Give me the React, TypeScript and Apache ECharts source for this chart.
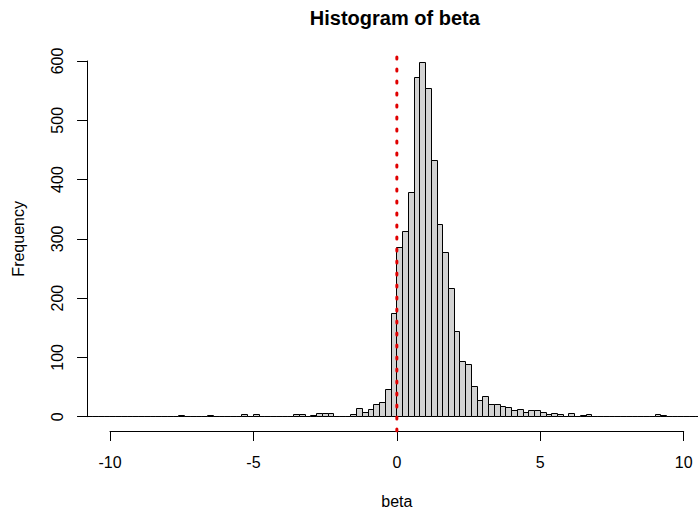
import React, { useEffect, useRef } from "react";
import * as echarts from "echarts";

// Histogram bins: left edge of first bin and bin width
const binStart = -11;
const binWidth = 0.2;
// Counts for bins [-11.0,-10.8), ..., [10.8,11.0)
const counts = [
  0, 0, 0, 0, 0, 0, 0, 0, 0, 0, 0, 0, 0, 0, 0, 0, 0,
  2, 0, 0, 0, 0, 2, 0, 0, 0, 0, 0, 4, 0, 4, 0, 0, 0,
  1, 1, 1, 4, 4, 0, 3, 5, 6, 5, 1, 1, 0, 4, 14, 8, 13, 20, 24, 46, 175,
  285, 313, 379, 572, 598, 553, 433, 325, 277, 216, 144, 93, 89, 51, 28, 34,
  21, 21, 18, 15, 10, 13, 8, 11, 10, 7, 4, 6, 4, 0, 6, 0, 2, 4, 0, 0,
  1, 1, 1, 0, 0, 0, 0, 0, 0, 4, 2,
  0, 0, 0, 0, 0, 0, 0, 0,
];
const xTicks = { min: -10, max: 10, step: 5 };
const yTicks = { min: 0, max: 600, step: 100 };
const refLineX = 0;
const titleText = "Histogram of beta";
const xName = "beta";
const yName = "Frequency";

const FONT = "'Liberation Sans', Arial, sans-serif";

export default function App() {
  const ref = useRef<HTMLDivElement>(null);
  useEffect(() => {
    if (!ref.current) return;
    const chart = echarts.init(ref.current, null, { renderer: "svg" });
    const bins = counts.map((c, i) => [
      +(binStart + i * binWidth).toFixed(2),
      +(binStart + (i + 1) * binWidth).toFixed(2),
      c,
    ]);
    const snap = (v: number) => Math.round(v - 0.5) + 0.5;
    const yMaxData = Math.max(...counts);
    const ext = yMaxData * 0.04;
    const axL = 110;
    const axW = 573.7;
    const pxPerUnit = axW / (xTicks.max - xTicks.min);
    const xLo = xTicks.min - 0.04 * (xTicks.max - xTicks.min);
    const gridLeft = axL + (xLo - xTicks.min) * pxPerUnit;
    const gridW = 698 - gridLeft;
    const xHi = xLo + gridW / pxPerUnit;
    const option: any = {
      animation: false,
      backgroundColor: "#ffffff",
      textStyle: { fontFamily: FONT },
      graphic: [
        {
          type: "text",
          x: axL + axW / 2 - 2,
          y: 8,
          style: {
            text: titleText,
            textAlign: "center",
            textVerticalAlign: "top",
            fontFamily: FONT,
            fontSize: 20,
            fontWeight: "bold",
            fill: "#000",
          },
        },
      ],
      grid: [
        { left: gridLeft, top: 48, width: gridW, height: 383, outerBoundsMode: "none", containLabel: false },
        { left: axL, top: 48, width: axW, height: 383, outerBoundsMode: "none", containLabel: false },
        { left: gridLeft, top: 61, width: gridW, height: 355.7, outerBoundsMode: "none", containLabel: false },
      ],
      xAxis: [
        { gridIndex: 0, type: "value", min: xLo, max: xHi, show: false },
        {
          gridIndex: 1,
          type: "value",
          min: xTicks.min,
          max: xTicks.max,
          interval: xTicks.step,
          position: "bottom",
          name: xName,
          nameLocation: "middle",
          nameGap: 62,
          nameTextStyle: { fontFamily: FONT, fontSize: 16, color: "#000" },
          axisLine: { show: true, onZero: false, lineStyle: { color: "#000", width: 1 } },
          axisTick: { show: true, inside: false, length: 10, lineStyle: { color: "#000" } },
          axisLabel: { fontFamily: FONT, fontSize: 16, color: "#000", margin: 23 },
          splitLine: { show: false },
        },
        { gridIndex: 2, type: "value", min: 0, max: 1, show: false },
      ],
      yAxis: [
        { gridIndex: 0, type: "value", min: -ext, max: yMaxData + ext, show: false },
        { gridIndex: 1, type: "value", min: 0, max: 1, show: false },
        {
          gridIndex: 2,
          type: "value",
          min: yTicks.min,
          max: yTicks.max,
          interval: yTicks.step,
          position: "left",
          name: yName,
          nameLocation: "middle",
          nameGap: 61,
          nameTextStyle: { fontFamily: FONT, fontSize: 16, color: "#000" },
          axisLine: { show: true, onZero: false, lineStyle: { color: "#000", width: 1 } },
          axisTick: { show: true, inside: false, length: 10, lineStyle: { color: "#000" } },
          axisLabel: { fontFamily: FONT, fontSize: 16, color: "#000", margin: 22, rotate: 90 },
          splitLine: { show: false },
        },
      ],
      series: [
        {
          type: "custom",
          xAxisIndex: 0,
          yAxisIndex: 0,
          clip: true,
          data: bins,
          encode: { x: [0, 1], y: 2 },
          renderItem: (params: any, api: any) => {
            const x0 = api.value(0);
            const x1 = api.value(1);
            const c = api.value(2);
            const p0 = api.coord([x0, 0]);
            const p1 = api.coord([x1, c]);
            const L = snap(p0[0]);
            const R = snap(p1[0]);
            const B = snap(p0[1]);
            const T = snap(p1[1]);
            return {
              type: "polygon",
              shape: { points: [[L, B], [L, T], [R, T], [R, B]] },
              style: { fill: "#D3D3D3", stroke: "#000", lineWidth: 1 },
            };
          },
        },
        {
          type: "line",
          xAxisIndex: 0,
          yAxisIndex: 0,
          symbol: "none",
          silent: true,
          data: [
            [refLineX, -ext],
            [refLineX, yMaxData + ext],
          ],
          lineStyle: { color: "#E00000", width: 3, type: [2, 10], cap: "round" },
          z: 5,
        },
      ],
    };
    chart.setOption(option);
    return () => chart.dispose();
  }, []);
  return (
    <div
      ref={ref}
      style={{ position: "absolute", left: 0, top: 0, width: 698, height: 512, background: "#fff" }}
    />
  );
}
